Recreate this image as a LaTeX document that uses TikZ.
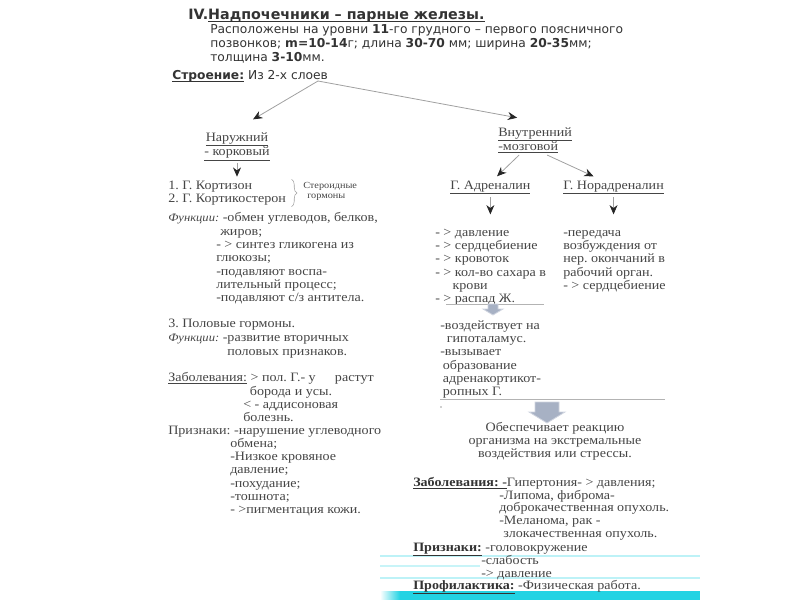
\documentclass[tikz,border=0pt]{standalone}
\usepackage{fontspec}
\setmainfont{Liberation Serif}[FakeStretch=1.1]
\newfontfamily\headfont{DejaVu Sans}
\usetikzlibrary{arrows.meta,decorations.pathreplacing}
\frenchspacing

\definecolor{ink}{HTML}{333333}
\definecolor{soft}{HTML}{454545}
\definecolor{wire}{HTML}{A0A0A0}
\definecolor{block}{HTML}{A7B1C4}
\definecolor{band}{HTML}{22D3E3}

% lines hung from the first baseline
\newcommand{\rows}[1]{\begin{tabular}[t]{@{}l@{}}#1\end{tabular}}
\newcommand{\crows}[1]{\begin{tabular}[t]{@{}c@{}}#1\end{tabular}}
\newcommand{\lab}[1]{{\fontsize{8.6}{10}\selectfont\itshape #1}}
\newcommand{\heavyul}[1]{\setbox0\hbox{#1}\rlap{\rule[-2.2pt]{\wd0}{0.8pt}}\box0\relax}

\tikzset{
  hd/.style={anchor=base west, inner sep=0pt, text=ink,
    font=\headfont\fontsize{9.2}{10.5}\selectfont},
  txt/.style={anchor=base west, inner sep=0pt, text=soft,
    font=\fontsize{9.6}{10}\selectfont},
  tiny/.style={txt, font=\fontsize{7}{8}\selectfont},
  link/.style={draw=wire, line width=0.6pt, ->},
  rule/.style={draw=wire!80, line width=0.5pt},
  fat/.style={fill=block, draw=block!55, line width=0.6pt},
}

\begin{document}
\begin{tikzpicture}[x=0.75pt, y=-0.75pt, >={Stealth[length=7pt,width=6pt,color=black!85]}]
    \useasboundingbox (0,0) rectangle (800,600);

    % slide stripes
    \fill[band] (400,591) rectangle (700,600);
    \shade[left color=white, right color=band] (380,591) rectangle (400,600);
    \draw[band!30, line width=1.5pt] (380,556) -- (700,556);
    \draw[band!25, line width=1pt] (380,566) -- (480,566);
    \draw[band!30, line width=1.5pt] (380,578) -- (700,578);

    % header
    \node[hd, font=\headfont\bfseries\fontsize{10.7}{12}\selectfont] (title) at (188,19)
        {IV.\heavyul{Надпочечники – парные железы.}};
    \node[hd] (size) at (210,33) {\rows{Расположены на уровни \textbf{11}-го грудного – первого поясничного\\
        позвонков; \textbf{m=10-14}г; длина \textbf{30-70} мм; ширина \textbf{20-35}мм;\\
        толщина \textbf{3-10}мм.}};
    \node[hd] (build) at (172,79) {\heavyul{\textbf{Строение:}} Из 2-х слоев};
    \coordinate (fork) at (318,81);

    % two layers
    \node[txt, anchor=base] (outer) at (237,141)
        {\crows{\underline{Наружний}\\\underline{- корковый}}};
    \node[txt] (inner) at (498,136) {\rows{\underline{Внутренний}\\\underline{-мозговой}}};
    \draw[link] (fork) -- ([xshift=12pt,yshift=9pt]outer.north);
    \draw[link] (fork) -- ([xshift=-13.5pt,yshift=6.5pt]inner.north);

    % cortex
    \node[txt] (cort) at (168,189) {\rows{1. Г. Кортизон\\2. Г. Кортикостерон}};
    \draw[link, shorten <=1pt, shorten >=2pt] (outer.south) -- (outer.south |- cort.north);
    \draw[wire, decorate, decoration={brace, amplitude=4pt}]
        ([xshift=4pt]cort.north east) -- ([xshift=4pt]cort.south east);
    \node[tiny] (steroid) at (303,188) {\rows{Стероидные\\\hspace*{3pt}гормоны}};

    \node[txt] (func) at (168,221) {\lab{Функции:} -обмен углеводов, белков,};
    \node[txt] (funcmore) at (216,235) {\rows{\hspace*{3pt}жиров;\\
        - > синтез гликогена из\\глюкозы;\\-подавляют воспа-\\лительный процесс;\\
        -подавляют с/з антитела.}};

    \node[txt] (sex) at (168,327) {3. Половые гормоны.};
    \node[txt] (func2) at (168,341) {\lab{Функции:} -развитие вторичных};
    \node[txt] (func2more) at (227,355) {половых признаков.};

    \node[txt] (ill) at (168,381) {\underline{Заболевания:} > пол. Г.- у\hspace{1.5em}растут};
    \node[txt] (illmore) at (243,395) {\rows{\hspace*{5pt}борода и усы.\\< - аддисоновая\\болезнь.}};

    \node[txt] (sign) at (168,434) {Признаки: -нарушение углеводного};
    \node[txt] (signmore) at (230,447) {\rows{обмена;\\-Низкое кровяное\\
        давление;\\-похудание;\\-тошнота;\\- >пигментация кожи.}};

    % medulla
    \node[txt] (adr) at (450,189) {\underline{Г. Адреналин}};
    \node[txt] (noradr) at (563,189) {\underline{Г. Норадреналин}};
    \draw[link] ([xshift=-12pt]inner.south) -- ([xshift=5pt,yshift=3pt]adr.north);
    \draw[link] ([xshift=9pt]inner.south) -- ([xshift=-15pt,yshift=3pt]noradr.north);

    \node[txt] (adrlist) at (435,236) {\rows{- > давление\\- > сердцебиение\\- > кровоток\\
        - > кол-во сахара в\\\hspace*{13pt}крови\\- > распад Ж.}};
    \node[txt] (noradrlist) at (563,236) {\rows{-передача\\возбуждения от\\нер. окончаний в\\
        рабочий орган.\\- > сердцебиение}};
    \draw[link, shorten <=2pt, shorten >=9pt] (adr.south) -- (adr.south |- adrlist.north);
    \draw[link, shorten <=2pt, shorten >=9pt] (noradr.south) -- (noradr.south |- noradrlist.north);

    \draw[rule] (446,304) -- (544,304);
    \filldraw[fat] (493,304) +(-5,0) -- +(5,0) -- +(5,5) -- +(10,5) -- +(0,11)
        -- +(-10,5) -- +(-5,5) -- cycle;

    \node[txt] (hypo) at (440,329) {\rows{-воздействует на\\\hspace*{5pt}гипоталамус.\\-вызывает\\
        \hspace*{2pt}образование\\\hspace*{2pt}адренакортикот-\\\hspace*{2pt}ропных Г.}};

    \draw[rule] (440,399) -- (665,399);
    \fill[wire] (441,407) circle (0.8);
    \filldraw[fat] (547,402) +(-12,0) -- +(12,0) -- +(12,10) -- +(18,10) -- +(0,21)
        -- +(-18,10) -- +(-12,10) -- cycle;

    \node[txt, anchor=base] (stress) at (555,431)
        {\crows{Обеспечивает реакцию\\организма на экстремальные\\воздействия или стрессы.}};

    % diseases
    \node[txt] (ill2) at (413,486) {\textcolor{ink}{\textbf{\underline{Заболевания: -}}}Гипертония- > давления;};
    \node[txt, font=\fontsize{9.6}{9.5}\selectfont] (ill2more) at (499,499)
        {\rows{-Липома, фиброма-\\доброкачественная опухоль.\\
        -Меланома, рак -\\\hspace*{3pt}злокачественная опухоль.}};
    \node[txt] (sign2) at (413,551) {\textcolor{ink}{\textbf{\underline{Признаки:}}} -головокружение};
    \node[txt] (sign2more) at (481,564) {\rows{-слабость\\-> давление}};
    \node[txt] (prev) at (413,589) {\textcolor{ink}{\textbf{\underline{Профилактика:}}} -Физическая работа.};
\end{tikzpicture}
\end{document}
